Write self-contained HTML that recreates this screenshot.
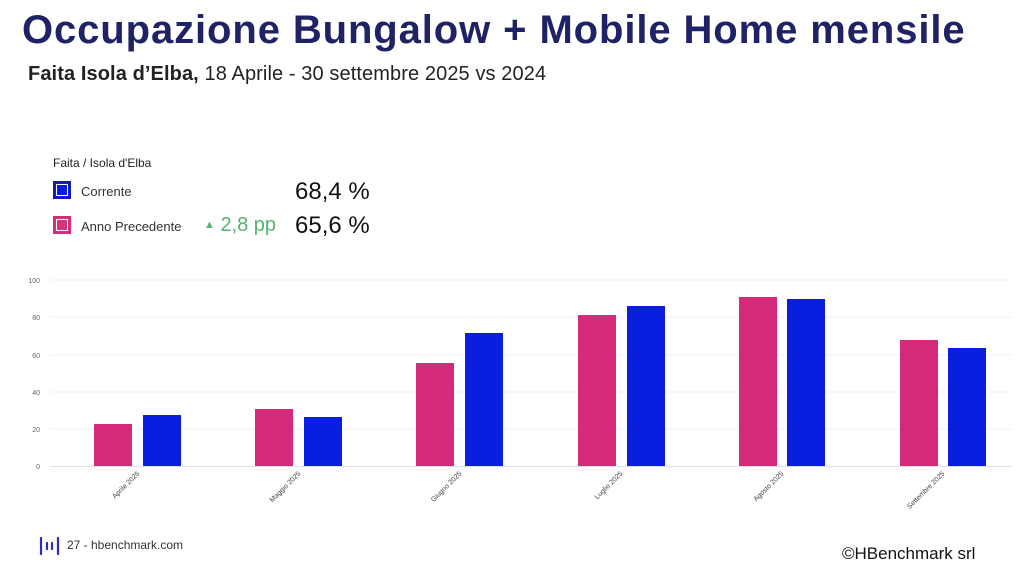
<!DOCTYPE html>
<html><head><meta charset="utf-8"><style>
body{margin:0;width:1024px;height:576px;background:#fff;overflow:hidden;font-family:"Liberation Sans",sans-serif;position:relative}
.t{position:absolute;white-space:nowrap}
</style></head><body>
<div class="t" style="left:22px;top:8px;font-size:40px;font-weight:bold;color:#1f2366;letter-spacing:0.9px">Occupazione Bungalow + Mobile Home mensile</div>
<div class="t" style="left:28px;top:63px;font-size:20px;color:#222;letter-spacing:0.1px"><b>Faita Isola d’Elba,</b> 18 Aprile - 30 settembre 2025 vs 2024</div>
<div class="t" style="left:53px;top:156px;font-size:12px;color:#222">Faita / Isola d'Elba</div>
<div class="t" style="left:53px;top:181px;width:18px;height:18px;border:2px solid #1a1f8f;box-sizing:border-box;background:#0a1ee0;outline:1px solid #fff;outline-offset:-4px"></div>
<div class="t" style="left:81px;top:184px;font-size:13px;color:#333">Corrente</div>
<div class="t" style="left:295px;top:178px;font-size:24px;color:#111">68,4 %</div>
<div class="t" style="left:53px;top:216px;width:18px;height:18px;border:2px solid #d42a7a;box-sizing:border-box;background:#d63579;outline:1px solid #fff;outline-offset:-4px"></div>
<div class="t" style="left:81px;top:219px;font-size:13px;color:#333">Anno Precedente</div>
<div class="t" style="left:204px;top:214px;font-size:20px;color:#55b36e"><span style="font-size:11px;position:relative;top:-3px">▲</span> 2,8 pp</div>
<div class="t" style="left:295px;top:212px;font-size:24px;color:#111">65,6 %</div>
<svg class="t" style="left:0;top:0" width="1024" height="576">
<g stroke="#eef0f4" stroke-width="1">
<line x1="50" x2="1012" y1="280" y2="280"/><line x1="50" x2="1012" y1="317" y2="317"/><line x1="50" x2="1012" y1="355" y2="355"/><line x1="50" x2="1012" y1="392" y2="392"/><line x1="50" x2="1012" y1="429" y2="429"/></g>
<line x1="50" x2="1012" y1="466.5" y2="466.5" stroke="#dcdfe6"/>
<g font-size="7" fill="#666" text-anchor="end">
<text x="40" y="283">100</text><text x="40" y="320">80</text><text x="40" y="358">60</text><text x="40" y="395">40</text><text x="40" y="432">20</text><text x="40" y="469">0</text></g>
<g fill="#d52a7a">
<rect x="94" y="424" width="38" height="42"/><rect x="255" y="409" width="38" height="57"/><rect x="416" y="363" width="38" height="103"/><rect x="578" y="315" width="38" height="151"/><rect x="739" y="297" width="38" height="169"/><rect x="900" y="340" width="38" height="126"/></g>
<g fill="#0a1ee0">
<rect x="143" y="415" width="38" height="51"/><rect x="304" y="417" width="38" height="49"/><rect x="465" y="333" width="38" height="133"/><rect x="627" y="306" width="38" height="160"/><rect x="787" y="299" width="38" height="167"/><rect x="948" y="348" width="38" height="118"/></g>
<g font-size="7" fill="#444" text-anchor="end">
<text transform="translate(140,474) rotate(-45)">Aprile 2025</text>
<text transform="translate(301,474) rotate(-45)">Maggio 2025</text>
<text transform="translate(462,474) rotate(-45)">Giugno 2025</text>
<text transform="translate(623,474) rotate(-45)">Luglio 2025</text>
<text transform="translate(784,474) rotate(-45)">Agosto 2025</text>
<text transform="translate(945,474) rotate(-45)">Settembre 2025</text></g>
<g stroke="#2a2fb0" stroke-width="2.2" stroke-linecap="round">
<line x1="41" y1="538" x2="41" y2="554"/><line x1="58" y1="538" x2="58" y2="554"/><line x1="47" y1="543" x2="47" y2="549"/><line x1="52" y1="543" x2="52" y2="549"/></g>
</svg>
<div class="t" style="left:67px;top:538px;font-size:12px;color:#333">27 - hbenchmark.com</div>
<div class="t" style="left:842px;top:544px;font-size:17px;color:#111">©HBenchmark srl</div>
</body></html>
